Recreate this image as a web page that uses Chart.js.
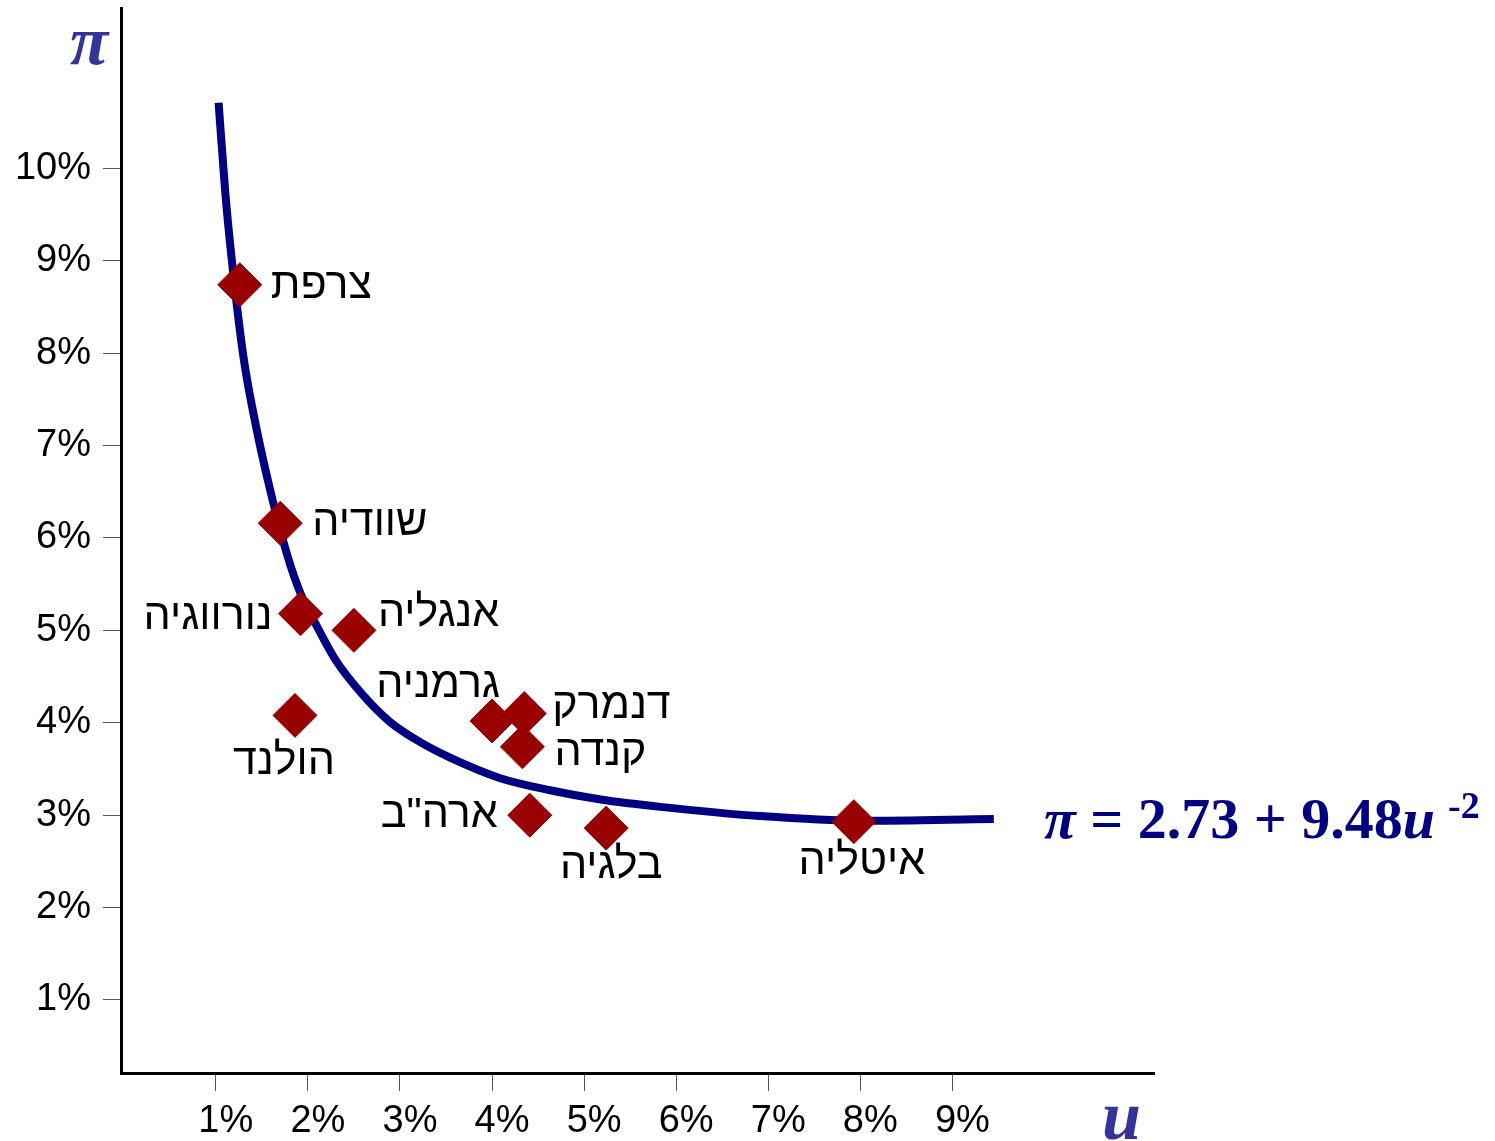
<!DOCTYPE html>
<html>
<head>
<meta charset="utf-8">
<script src="https://cdn.jsdelivr.net/npm/chart.js@4/dist/chart.umd.min.js"></script>
<style>
  html, body { margin: 0; padding: 0; background: #fff; }
  #wrap { width: 1495px; height: 1141px; }
</style>
</head>
<body>
<div id="wrap"><canvas id="c" width="1495" height="1141"></canvas></div>
<script>
// Countries: unemployment (u, %) and inflation (π, %)
const countries    = ['צרפת', 'שוודיה', 'נורווגיה', 'אנגליה', 'הולנד', 'גרמניה', 'דנמרק', 'קנדה', 'ארה"ב', 'בלגיה', 'איטליה'];
const unemployment = [1.26, 1.70, 1.92, 2.50, 1.86, 4.00, 4.35, 4.33, 4.41, 5.24, 7.93];
const inflation    = [8.74, 6.16, 5.18, 5.00, 4.08, 4.02, 4.10, 3.74, 3.00, 2.86, 2.93];

// Fitted Phillips curve, sampled along its length
const curveU  = [1.03, 1.10, 1.17, 1.30, 1.43, 1.59, 1.78, 1.92, 2.10, 2.30, 2.58, 2.89, 3.22, 3.55, 4.09, 4.63, 5.18, 5.83, 6.91, 8.00, 9.45];
const curvePi = [10.71, 9.77, 9.04, 7.96, 7.24, 6.52, 5.80, 5.40, 5.04, 4.68, 4.32, 4.01, 3.79, 3.62, 3.40, 3.27, 3.17, 3.09, 2.99, 2.94, 2.96];

const xTicks = [1, 2, 3, 4, 5, 6, 7, 8, 9];
const yTicks = [1, 2, 3, 4, 5, 6, 7, 8, 9, 10];

// Where each country name sits relative to its marker: [dx, dy, align]
const labelPlacement = [
  [31, 1, 'left'], [32, 0, 'left'], [-28, 3, 'right'], [24, -16, 'left'],
  [-11, 47, 'center'], [8, -36, 'right'], [28, -7, 'left'], [32, 6, 'left'],
  [-32, 0, 'right'], [5, 38, 'center'], [8, 40, 'center']
];

const SANS = '"Liberation Sans", Arial, sans-serif';
const SERIF = '"Liberation Serif", "Times New Roman", serif';

Chart.defaults.font.family = SANS;
Chart.defaults.color = '#000';

const annotations = {
  id: 'annotations',
  afterDatasetsDraw(chart) {
    const ctx = chart.ctx;
    const meta = chart.getDatasetMeta(0);
    ctx.save();
    ctx.font = '43px ' + SANS;
    ctx.fillStyle = '#000';
    ctx.textBaseline = 'middle';
    ctx.direction = 'rtl';
    meta.data.forEach((pt, i) => {
      const [dx, dy, align] = labelPlacement[i];
      ctx.textAlign = align;
      ctx.fillText(countries[i], pt.x + dx, pt.y + dy);
    });
    ctx.restore();
  },
  afterDraw(chart) {
    const ctx = chart.ctx;
    const area = chart.chartArea;
    ctx.save();
    ctx.textBaseline = 'alphabetic';
    ctx.textAlign = 'left';
    ctx.direction = 'ltr';

    // axis symbols
    ctx.fillStyle = '#333399';
    ctx.font = 'italic bold 70px ' + SERIF;
    ctx.fillText('π', area.left - 51, 64);
    ctx.fillText('u', area.right - 52, 1139);

    // curve equation
    ctx.fillStyle = '#000080';
    let x = area.right - 110;
    const base = 838;
    ctx.font = 'italic bold 58px ' + SERIF;
    ctx.fillText('π', x, base);
    x += ctx.measureText('π').width;
    ctx.font = 'bold 58px ' + SERIF;
    const mid = ' = 2.73 + 9.48';
    ctx.fillText(mid, x, base);
    x += ctx.measureText(mid).width;
    ctx.font = 'italic bold 58px ' + SERIF;
    ctx.fillText('u', x, base);
    x += ctx.measureText('u').width + 13;
    ctx.font = 'bold 38px ' + SERIF;
    ctx.fillText('-2', x, base - 20);
    ctx.restore();
  }
};

new Chart(document.getElementById('c'), {
  type: 'scatter',
  data: {
    datasets: [
      {
        label: 'countries',
        data: unemployment.map((u, i) => ({ x: u, y: inflation[i] })),
        pointStyle: 'rectRot',
        pointRadius: 22,
        pointHoverRadius: 22,
        backgroundColor: '#990000',
        borderColor: '#990000',
        borderWidth: 1
      },
      {
        label: 'curve',
        data: curveU.map((u, i) => ({ x: u, y: curvePi[i] })),
        showLine: true,
        borderColor: '#000080',
        borderWidth: 8,
        pointRadius: 0,
        cubicInterpolationMode: 'monotone',
        fill: false
      }
    ]
  },
  options: {
    responsive: false,
    animation: false,
    devicePixelRatio: 1,
    layout: { autoPadding: false, padding: { top: 8, right: 341, bottom: 0, left: 0 } },
    plugins: { legend: { display: false }, tooltip: { enabled: false } },
    scales: {
      x: {
        type: 'linear',
        min: -0.03,
        max: 11.19,
        afterBuildTicks: (s) => { s.ticks = xTicks.map(v => ({ value: v })); },
        afterFit: (s) => { s.height = 68; s.paddingLeft = 0; s.paddingRight = 0; },
        grid: { drawOnChartArea: false, drawTicks: true, tickLength: 18, color: '#555', lineWidth: 1 },
        border: { display: true, color: '#000', width: 3 },
        ticks: { callback: v => v + '%', font: { size: 38 }, color: '#000', padding: 8, labelOffset: 10, maxRotation: 0, autoSkip: false }
      },
      y: {
        type: 'linear',
        min: 0.21,
        max: 11.735,
        afterBuildTicks: (s) => { s.ticks = yTicks.map(v => ({ value: v })); },
        afterFit: (s) => { s.width = 121; s.paddingTop = 0; s.paddingBottom = 0; },
        grid: { drawOnChartArea: false, drawTicks: true, tickLength: 18, color: '#555', lineWidth: 1 },
        border: { display: true, color: '#000', width: 3 },
        ticks: { callback: v => v + '%', font: { size: 38 }, color: '#000', padding: 12, autoSkip: false }
      }
    }
  },
  plugins: [annotations]
});
</script>
</body>
</html>
